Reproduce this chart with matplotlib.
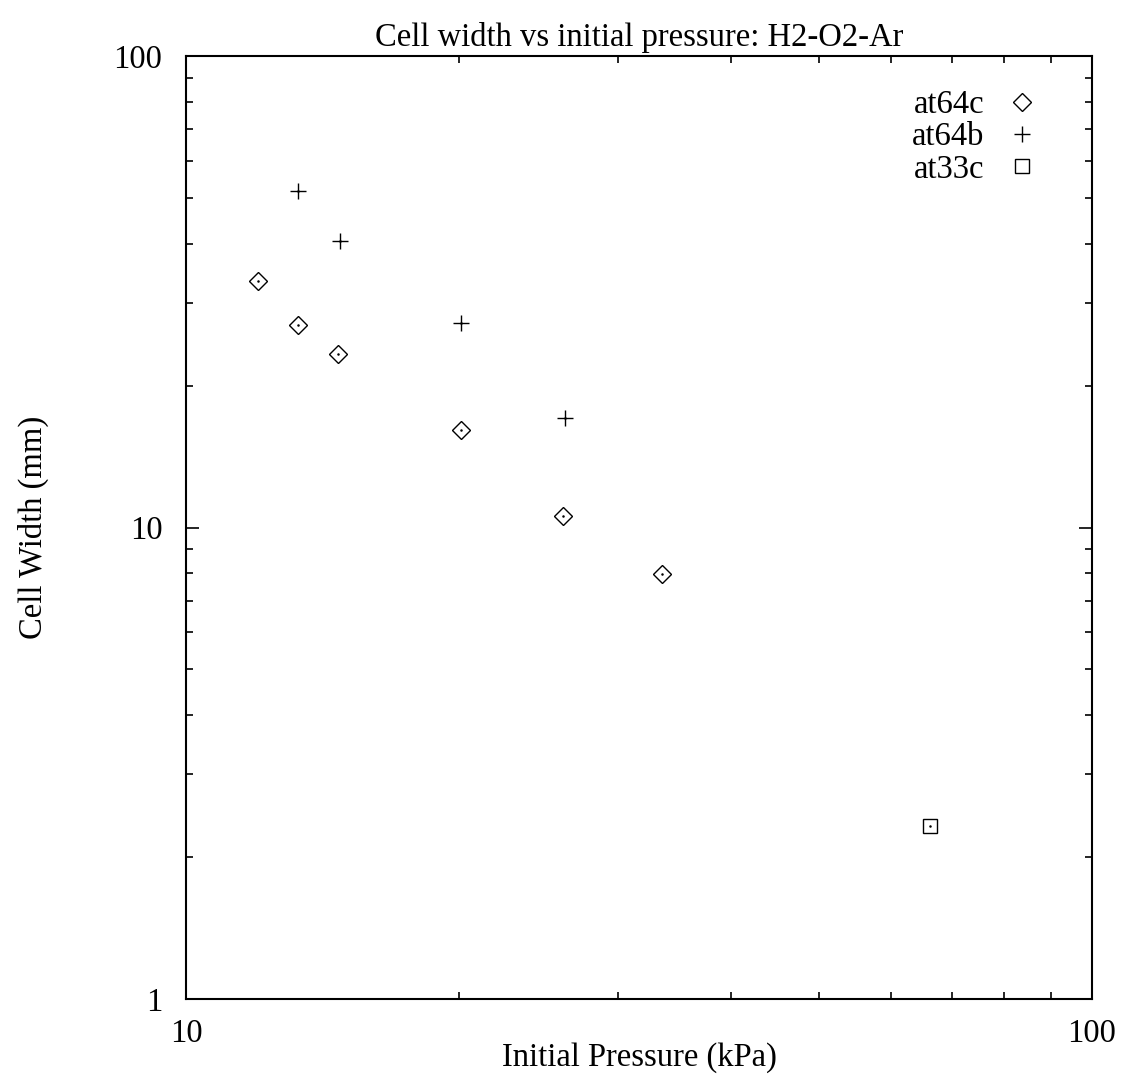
import numpy as np
import matplotlib
matplotlib.use("Agg")
from matplotlib import pyplot as plt
from matplotlib.ticker import LogLocator, NullFormatter, FixedLocator, FixedFormatter

# data (kPa, mm)
at64c_p = [12.0, 13.3, 14.7, 20.1, 26.1, 33.5]
at64c_w = [33.4, 26.9, 23.3, 16.1, 10.6, 7.98]

at64b_p = [13.3, 14.8, 20.1, 26.2]
at64b_w = [51.8, 40.5, 27.1, 17.1]

at33c_p = [66.3]
at33c_w = [2.33]

x_ticks = [10, 100]
y_ticks = [1, 10, 100]

FS = 23.5

plt.rcParams['font.family'] = ['Liberation Serif', 'DejaVu Serif']
plt.rcParams['font.size'] = FS

fig = plt.figure(figsize=(11.25, 10.84), dpi=100)
ax = fig.add_axes([0.1653, 0.0784, 0.8054, 0.8699])

ax.plot(at64c_p, at64c_w, linestyle='none', marker='D', ms=9.5, mfc='white',
        mec='black', mew=1.0, label='at64c')
ax.plot(at64b_p, at64b_w, linestyle='none', marker='+', ms=12, mec='black',
        mew=1.0, label='at64b')
ax.plot(at33c_p, at33c_w, linestyle='none', marker='s', ms=10.5, mfc='white',
        mec='black', mew=1.0, label='at33c')

# gnuplot style centre dots
for px, py in [(at64c_p, at64c_w), (at64b_p, at64b_w), (at33c_p, at33c_w)]:
    ax.plot(px, py, linestyle='none', marker='o', ms=0.8, color='black')

ax.set_xscale('log')
ax.set_yscale('log')
ax.set_xlim(10, 100)
ax.set_ylim(1, 100)

ax.xaxis.set_major_locator(FixedLocator(x_ticks))
ax.xaxis.set_major_formatter(FixedFormatter([str(t) for t in x_ticks]))
ax.yaxis.set_major_locator(FixedLocator(y_ticks))
ax.yaxis.set_major_formatter(FixedFormatter([str(t) for t in y_ticks]))
ax.xaxis.set_minor_locator(LogLocator(base=10, subs=np.arange(2, 10)))
ax.yaxis.set_minor_locator(LogLocator(base=10, subs=np.arange(2, 10)))
ax.xaxis.set_minor_formatter(NullFormatter())
ax.yaxis.set_minor_formatter(NullFormatter())

ax.tick_params(which='both', direction='in', top=True, right=True, width=1.2)
ax.tick_params(which='major', length=9.5, labelsize=FS)
ax.tick_params(which='minor', length=5)
ax.tick_params(axis='x', which='major', pad=14)
ax.tick_params(axis='y', which='major', pad=17)

for s in ax.spines.values():
    s.set_linewidth(1.5)

ax.set_title('Cell width vs initial pressure: H2-O2-Ar', fontsize=FS, pad=7)
ax.set_xlabel('Initial Pressure (kPa)', fontsize=FS)
ax.set_ylabel('Cell Width (mm)', fontsize=FS)
ax.xaxis.set_label_coords(0.5, -0.046)
ax.yaxis.set_label_coords(-0.1515, 0.5)

ax.legend(loc='upper right', bbox_to_anchor=(0.955, 0.978), borderaxespad=0,
          frameon=False, markerfirst=False, fontsize=FS, handlelength=1.0,
          handletextpad=0.65, labelspacing=0.05)

fig.savefig('out.png', dpi=100)
